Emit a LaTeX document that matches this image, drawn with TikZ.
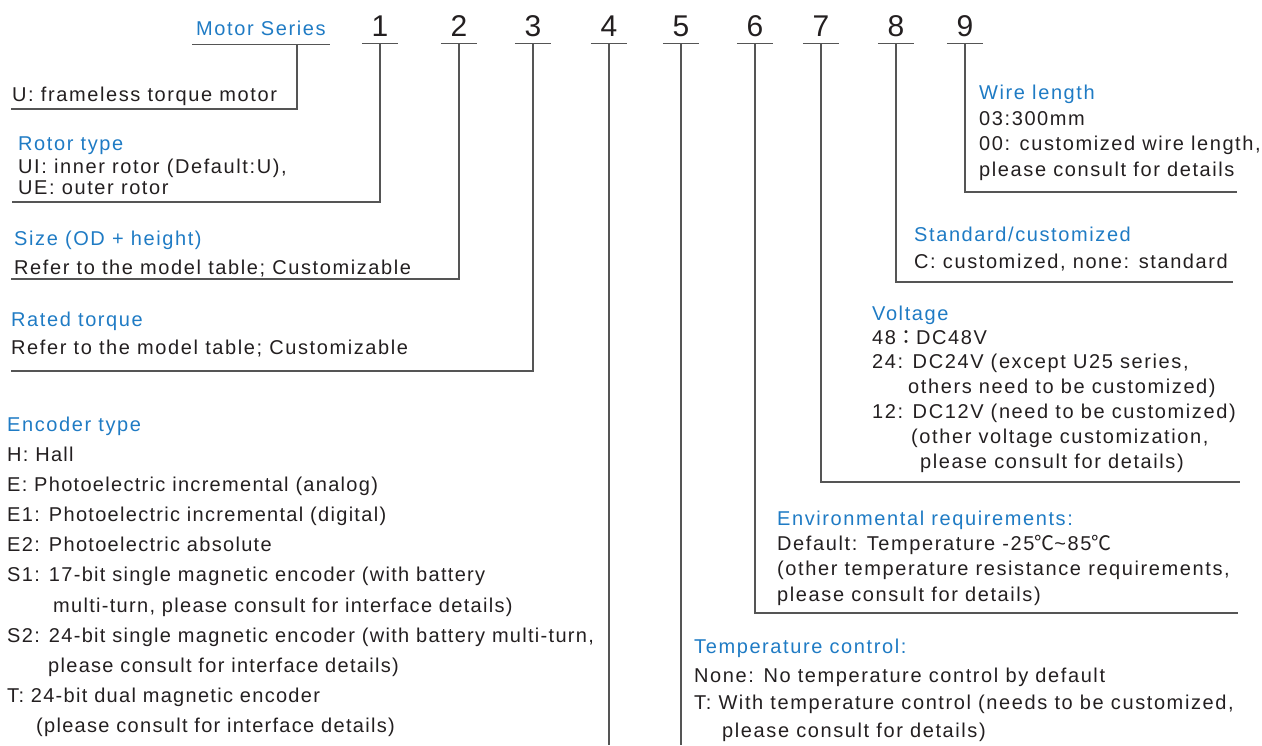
\documentclass[tikz,border=0pt]{standalone}
\usepackage{fontspec}
\setmainfont{Liberation Sans}[LetterSpace=8]
\newfontfamily\digitfont{Liberation Sans}
\newfontfamily\encfont{Liberation Sans}[LetterSpace=6.5]
\newfontfamily\cjkfont{Noto Sans CJK TC}
\usetikzlibrary{positioning}
\definecolor{titleblue}{RGB}{31,123,196}
\definecolor{textgray}{RGB}{35,31,32}
\definecolor{linegray}{RGB}{85,85,85}
\tikzset{
  digit/.style={font=\digitfont\fontsize{30}{30}\selectfont, text=textgray, minimum width=36pt, text height=22pt, text depth=7pt, inner sep=0pt, anchor=base},
  title/.style={font=\fontsize{20}{24}\selectfont, text=titleblue, inner sep=0pt, anchor=base west},
  body/.style={font=\fontsize{20}{#1}\selectfont, text=textgray, inner sep=0pt, anchor=base west},
  body/.default=25pt,
  lead/.style={draw=linegray, line width=1.3pt},
}
\newcommand{\rows}[1]{\begin{tabular}[t]{@{}l@{}}#1\end{tabular}}

\begin{document}
\begin{tikzpicture}[x=1pt,y=-1pt]
\useasboundingbox (0,0) rectangle (1262,745);
% code row
\node (ms) [title, inner xsep=4pt, text depth=9pt] at (192,35) {Motor Series};
\node (d1) [digit] at (380,36) {1};
\node (d2) [digit] at (459,36) {2};
\node (d3) [digit] at (533,36) {3};
\node (d4) [digit] at (609,36) {4};
\node (d5) [digit] at (681,36) {5};
\node (d6) [digit] at (755,36) {6};
\node (d7) [digit] at (821,36) {7};
\node (d8) [digit] at (896,36) {8};
\node (d9) [digit] at (965,36) {9};

% left side
\node (uT) [body] at (12,101) {U: frameless torque motor};
\node (rotorT) [title] at (18,150) {Rotor type};
\node (rotorB) [body=21.5pt, below=23pt of rotorT.base west, anchor=base west] {\rows{UI: inner rotor (Default:U),\\UE: outer rotor}};
\node (sizeT) [title] at (14,245) {Size (OD + height)};
\node (sizeB) [body, below=29pt of sizeT.base west, anchor=base west] {Refer to the model table; Customizable};
\node (ratedT) [title] at (11,326) {Rated torque};
\node (ratedB) [body, below=28pt of ratedT.base west, anchor=base west] {Refer to the model table; Customizable};
\node (encT) [title] at (7,431) {Encoder type};
\node (encB) [body=30.2pt, below=30pt of encT.base west, anchor=base west] {\encfont\rows{H: Hall\\
  E: Photoelectric incremental (analog)\\
  E1: Photoelectric incremental (digital)\\
  E2: Photoelectric absolute\\
  S1: 17-bit single magnetic encoder (with battery\\
  \hspace*{46pt}multi-turn, please consult for interface details)\\
  S2: 24-bit single magnetic encoder (with battery multi-turn,\\
  \hspace*{41pt}please consult for interface details)\\
  T: 24-bit dual magnetic encoder\\
  \hspace*{29pt}(please consult for interface details)}};

% right side
\node (wireT) [title] at (979,99) {Wire length};
\node (wireB) [body=25.5pt, below=26pt of wireT.base west, anchor=base west] {\rows{03:300mm\\
  00: customized wire length,\\
  please consult for details}};
\node (stdT) [title] at (914,241) {Standard/customized};
\node (stdB) [body, below=27pt of stdT.base west, anchor=base west] {C: customized, none: standard};
\node (voltT) [title] at (872,320) {Voltage};
\node (voltB) [body=24.8pt, below=24pt of voltT.base west, anchor=base west] {\rows{48{\cjkfont ：}DC48V\\
  24: DC24V (except U25 series,\\
  \hspace*{36pt}others need to be customized)\\
  12: DC12V (need to be customized)\\
  \hspace*{39pt}(other voltage customization,\\
  \hspace*{48pt}please consult for details)}};
\node (envT) [title] at (777,525) {Environmental requirements:};
\node (envB) [body=25.5pt, below=25pt of envT.base west, anchor=base west] {\rows{Default: Temperature -25{\cjkfont ℃}\textasciitilde85{\cjkfont ℃}\\
  (other temperature resistance requirements,\\
  please consult for details)}};
\node (tempT) [title] at (694,653) {Temperature control:};
\node (tempB) [body=27.5pt, below=29pt of tempT.base west, anchor=base west] {\rows{None: No temperature control by default\\
  T: With temperature control (needs to be customized,\\
  \hspace*{28pt}please consult for details)}};

% lead ends
\coordinate (msDrop) at (297,44);
\coordinate (msEnd) at (11,109);
\coordinate (e1) at (12,202);
\coordinate (e2) at (11,279);
\coordinate (e3) at (11,371);
\coordinate (e4) at (609,745);
\coordinate (e5) at (681,745);
\coordinate (e6) at (1238,613);
\coordinate (e7) at (1240,482);
\coordinate (e8) at (1233,282);
\coordinate (e9) at (1237,192);

\draw [lead] (ms.south west) -- (ms.south east);
\draw [lead] (d1.south west) -- (d1.south east);
\draw [lead] (d2.south west) -- (d2.south east);
\draw [lead] (d3.south west) -- (d3.south east);
\draw [lead] (d4.south west) -- (d4.south east);
\draw [lead] (d5.south west) -- (d5.south east);
\draw [lead] (d6.south west) -- (d6.south east);
\draw [lead] (d7.south west) -- (d7.south east);
\draw [lead] (d8.south west) -- (d8.south east);
\draw [lead] (d9.south west) -- (d9.south east);

\draw [lead] (msDrop) |- (msEnd);
\draw [lead] (d1.south) |- (e1);
\draw [lead] (d2.south) |- (e2);
\draw [lead] (d3.south) |- (e3);
\draw [lead] (d4.south) -- (e4);
\draw [lead] (d5.south) -- (e5);
\draw [lead] (d6.south) |- (e6);
\draw [lead] (d7.south) |- (e7);
\draw [lead] (d8.south) |- (e8);
\draw [lead] (d9.south) |- (e9);
\end{tikzpicture}
\end{document}
